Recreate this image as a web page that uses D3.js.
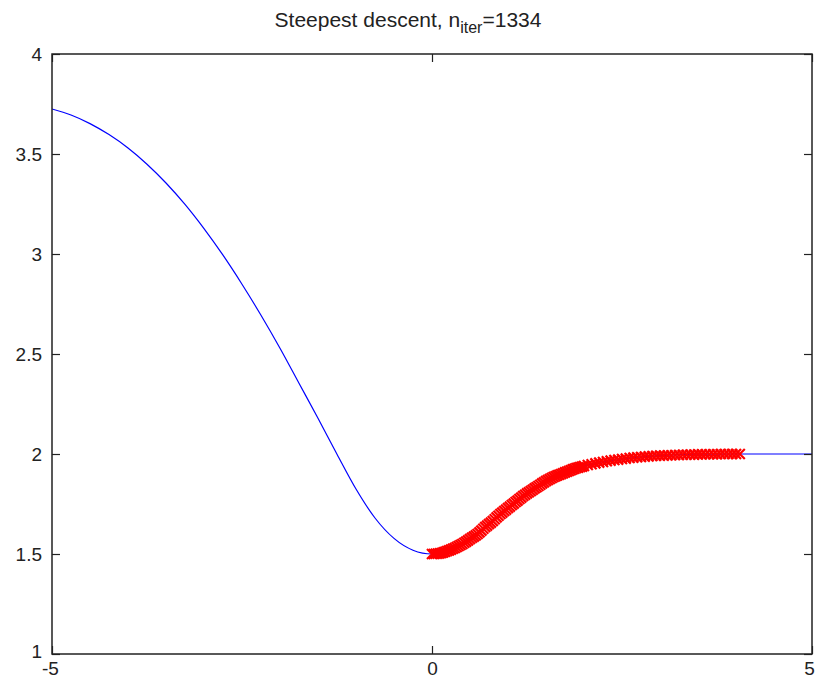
<!DOCTYPE html>
<html>
<head>
<meta charset="utf-8">
<script src="https://cdn.jsdelivr.net/npm/d3@7"></script>
<style>
  body { margin: 0; background: #fff; }
  text { font-family: "Liberation Sans", Arial, sans-serif; fill: #222; }
</style>
</head>
<body>
<div id="chart"></div>
<script>
// blue curve
const curveX = [-5, -4.75, -4.5, -4.25, -4, -3.75, -3.5, -3.25, -3, -2.75, -2.5, -2.25, -2, -1.75, -1.5, -1.25, -1, -0.75, -0.5, -0.25, 0,
  0.25, 0.5, 0.75, 1, 1.25, 1.5, 1.75, 2, 2.5, 3, 3.5, 4, 4.5, 5];
const curveY = [3.725, 3.695, 3.652, 3.597, 3.53, 3.449, 3.355, 3.248, 3.127, 2.994, 2.849, 2.694, 2.529, 2.354, 2.179, 1.999, 1.825, 1.68, 1.578, 1.519, 1.5,
  1.522, 1.575, 1.65, 1.73, 1.803, 1.865, 1.908, 1.94, 1.975, 1.992, 1.999, 2.0, 2.0, 2.0];

// steepest descent iterates (red x markers)
const iterX = [
  0, 0.025, 0.05, 0.075, 0.1, 0.125, 0.15, 0.175, 0.2, 0.225, 0.25, 0.275, 0.3, 0.325, 0.35, 0.375, 0.4, 0.425, 0.45, 0.475,
  0.5, 0.525, 0.55, 0.575, 0.6, 0.625, 0.65, 0.675, 0.7, 0.725, 0.75, 0.775, 0.8, 0.825, 0.85, 0.875, 0.9, 0.925, 0.95, 0.975,
  1.0, 1.025, 1.05, 1.075, 1.1, 1.125, 1.15, 1.175, 1.2, 1.225, 1.25, 1.275, 1.3, 1.325, 1.35, 1.375, 1.4, 1.425, 1.45, 1.475,
  1.5, 1.525, 1.55, 1.575, 1.6, 1.625, 1.65, 1.675, 1.7, 1.725, 1.75, 1.775, 1.8, 1.825, 1.85, 1.875, 1.9, 1.925, 1.95, 1.975,
  2.0, 2.05, 2.1, 2.15, 2.2, 2.25, 2.3, 2.35, 2.4, 2.45, 2.5, 2.55, 2.6, 2.65, 2.7, 2.75, 2.8, 2.85, 2.9, 2.95,
  3.0, 3.05, 3.1, 3.15, 3.2, 3.25, 3.3, 3.35, 3.4, 3.45, 3.5, 3.55, 3.6, 3.65, 3.7, 3.75, 3.8, 3.85, 3.9, 3.95, 4.0, 4.05];
const iterY = [
  1.500, 1.500, 1.501, 1.502, 1.503, 1.505, 1.508, 1.511, 1.515, 1.518, 1.522, 1.526, 1.530, 1.535, 1.540, 1.545, 1.550, 1.556, 1.562, 1.568,
  1.575, 1.581, 1.587, 1.593, 1.600, 1.608, 1.617, 1.626, 1.635, 1.642, 1.650, 1.657, 1.665, 1.674, 1.683, 1.691, 1.700, 1.707, 1.715, 1.722,
  1.730, 1.737, 1.745, 1.752, 1.760, 1.767, 1.775, 1.782, 1.790, 1.796, 1.803, 1.809, 1.815, 1.821, 1.828, 1.834, 1.840, 1.846, 1.853, 1.859,
  1.865, 1.870, 1.875, 1.880, 1.885, 1.889, 1.893, 1.896, 1.900, 1.904, 1.908, 1.911, 1.915, 1.919, 1.923, 1.926, 1.930, 1.932, 1.935, 1.937,
  1.940, 1.945, 1.949, 1.953, 1.957, 1.960, 1.964, 1.967, 1.970, 1.972, 1.975, 1.977, 1.980, 1.982, 1.984, 1.985, 1.987, 1.988, 1.990, 1.991,
  1.992, 1.992, 1.993, 1.994, 1.995, 1.995, 1.996, 1.996, 1.997, 1.997, 1.998, 1.998, 1.999, 1.999, 1.999, 1.999, 2.000, 2.000, 2.000, 2.000, 2.000, 2.000];

const xTicks = [-5, 0, 5];
const yTicks = [1, 1.5, 2, 2.5, 3, 3.5, 4];
const nIter = 1334;

const width = 815, height = 681;
const margin = {left: 52, right: 3, top: 54, bottom: 27};

const svg = d3.select("#chart").append("svg")
  .attr("width", width)
  .attr("height", height);

const x = d3.scaleLinear().domain([-5, 5]).range([margin.left, width - margin.right]);
const y = d3.scaleLinear().domain([1, 4]).range([height - margin.bottom, margin.top]);

svg.append("clipPath").attr("id", "clip")
  .append("rect")
  .attr("x", x(-5)).attr("y", y(4))
  .attr("width", x(5) - x(-5)).attr("height", y(1) - y(4));

const plot = svg.append("g").attr("clip-path", "url(#clip)");

const line = d3.line()
  .x((d, i) => x(curveX[i]))
  .y(d => y(d))
  .curve(d3.curveMonotoneX);

plot.append("path")
  .attr("d", line(curveY))
  .attr("fill", "none")
  .attr("stroke", "#0000ff")
  .attr("stroke-width", 1.2);

const s = 5;
plot.append("g").selectAll("path")
  .data(iterX)
  .enter()
  .append("path")
  .attr("d", (d, i) => {
    const cx = x(d), cy = y(iterY[i]);
    return `M${cx - s},${cy - s}L${cx + s},${cy + s}M${cx - s},${cy + s}L${cx + s},${cy - s}`;
  })
  .attr("stroke", "#ff0000")
  .attr("stroke-width", 2.2)
  .attr("fill", "none");

// axes, ticks pointing inwards on all four sides
const fmt = d => String(d);
const axisStyle = g => {
  g.select(".domain").remove();
  g.selectAll(".tick line").attr("stroke", "#222").attr("stroke-width", 1.2);
  g.selectAll("text").attr("font-size", 19).attr("fill", "#222");
};

svg.append("g")
  .attr("transform", `translate(${x(-5)},0)`)
  .call(d3.axisLeft(y).tickValues(yTicks).tickFormat(fmt).tickSize(-8).tickPadding(10))
  .call(axisStyle)
  .call(g => g.selectAll(".tick text").attr("dy", d => d === 1 ? "0.2em" : "0.32em"));

svg.append("g")
  .attr("transform", `translate(${x(5)},0)`)
  .call(d3.axisRight(y).tickValues(yTicks).tickFormat("").tickSize(-8))
  .call(axisStyle);

svg.append("g")
  .attr("transform", `translate(0,${y(1)})`)
  .call(d3.axisBottom(x).tickValues(xTicks).tickFormat(fmt).tickSize(-8).tickPadding(8))
  .call(axisStyle)
  .call(g => g.selectAll(".tick text").attr("dx", d => d < 0 ? -2 : (d > 0 ? -3 : 0)));

svg.append("g")
  .attr("transform", `translate(0,${y(4)})`)
  .call(d3.axisTop(x).tickValues(xTicks).tickFormat("").tickSize(-8))
  .call(axisStyle);

svg.append("rect")
  .attr("x", x(-5)).attr("y", y(4))
  .attr("width", x(5) - x(-5)).attr("height", y(1) - y(4))
  .attr("fill", "none")
  .attr("stroke", "#222")
  .attr("stroke-width", 1.5);

// title with subscript
const title = svg.append("text")
  .attr("x", 408)
  .attr("y", 27)
  .attr("text-anchor", "middle")
  .attr("font-size", 21);
title.append("tspan").text("Steepest descent, n");
title.append("tspan").attr("font-size", 16).attr("dy", 6).text("iter");
title.append("tspan").attr("dy", -6).text("=" + nIter);
</script>
</body>
</html>
